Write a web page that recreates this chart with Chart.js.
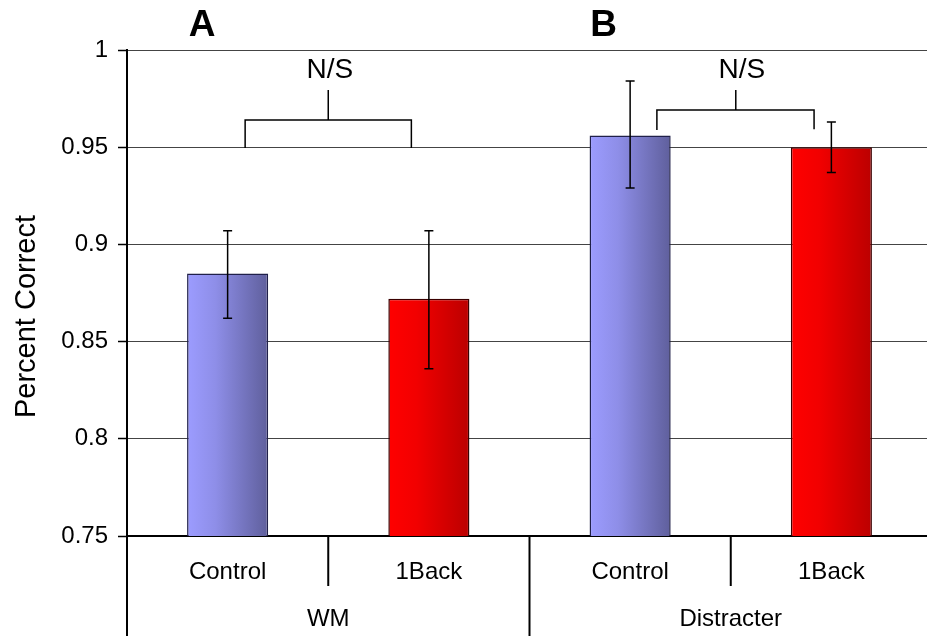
<!DOCTYPE html>
<html>
<head>
<meta charset="utf-8">
<script src="https://cdn.jsdelivr.net/npm/chart.js@4.4.1/dist/chart.umd.min.js"></script>
<style>
  html, body { margin: 0; padding: 0; background: #fff; overflow: hidden; }
  canvas { display: block; }
</style>
</head>
<body>
<canvas id="c" width="933" height="636"></canvas>
<script>
// ---- data ----
const conditions = ['Control', '1Back', 'Control', '1Back'];
const groups = ['WM', 'Distracter'];
const groupSpan = [[0, 1], [2, 3]];
const meanCorrect = [0.885, 0.872, 0.956, 0.950];
const errLow = [0.862, 0.836, 0.929, 0.937];
const errHigh = [0.907, 0.907, 0.984, 0.963];
const yMin = 0.75, yMax = 1, yStep = 0.05;
const yTickLabels = ['0.75', '0.8', '0.85', '0.9', '0.95', '1'];
const panelLetters = ['A', 'B'];
const sigLabel = 'N/S';
const yTitle = 'Percent Correct';

// annotation geometry (category index units / value units)
const brackets = [
  { left: 0.087, right: 0.913, stem: 0.5, bar: 0.964, legL: 0.9496, legR: 0.9496, stemTop: 0.9794, textX: 0.508, textY: 0.9856 },
  { left: 2.133, right: 2.914, stem: 2.525, bar: 0.9691, legL: 0.9588, legR: 0.9592, stemTop: 0.9794, textX: 2.555, textY: 0.9856 }
];
const letterX = [-0.127, 1.868];

const FONT = '"Liberation Sans", Arial, sans-serif';
const BAR_PCT = 0.403;

function barFill(ctx) {
  const chart = ctx.chart;
  const i = ctx.dataIndex;
  const isCtrl = conditions[i] === 'Control';
  const xs = chart.scales.x;
  if (!xs || !chart.chartArea) return isCtrl ? '#8080cc' : '#e00000';
  const c = xs.getPixelForValue(i);
  const hw = (xs.width / conditions.length) * BAR_PCT / 2;
  const g = chart.ctx.createLinearGradient(c - hw, 0, c + hw, 0);
  if (isCtrl) {
    g.addColorStop(0, '#9c9cff');
    g.addColorStop(0.35, '#8e8ee8');
    g.addColorStop(1, '#5f5f9c');
  } else {
    g.addColorStop(0, '#ff0000');
    g.addColorStop(0.35, '#f20000');
    g.addColorStop(1, '#bb0000');
  }
  return g;
}

const overlay = {
  id: 'overlay',
  afterDatasetsDraw(chart) {
    const ctx = chart.ctx;
    const xs = chart.scales.x, ys = chart.scales.y;
    const ca = chart.chartArea;
    ctx.save();
    ctx.strokeStyle = '#000';
    ctx.fillStyle = '#000';

    // error bars
    ctx.lineWidth = 1.5;
    for (let i = 0; i < meanCorrect.length; i++) {
      const x = xs.getPixelForValue(i);
      const yt = ys.getPixelForValue(errHigh[i]);
      const yb = ys.getPixelForValue(errLow[i]);
      ctx.beginPath();
      ctx.moveTo(x, yt); ctx.lineTo(x, yb);
      ctx.moveTo(x - 4.5, yt); ctx.lineTo(x + 4.5, yt);
      ctx.moveTo(x - 4.5, yb); ctx.lineTo(x + 4.5, yb);
      ctx.stroke();
    }

    // brackets
    ctx.lineWidth = 1.5;
    ctx.font = '28px ' + FONT;
    ctx.textAlign = 'center';
    ctx.textBaseline = 'alphabetic';
    brackets.forEach(b => {
      const xl = xs.getPixelForValue(b.left), xr = xs.getPixelForValue(b.right);
      const xm = xs.getPixelForValue(b.stem);
      const yb = ys.getPixelForValue(b.bar);
      ctx.beginPath();
      ctx.moveTo(xl, ys.getPixelForValue(b.legL));
      ctx.lineTo(xl, yb);
      ctx.lineTo(xr, yb);
      ctx.lineTo(xr, ys.getPixelForValue(b.legR));
      ctx.moveTo(xm, yb);
      ctx.lineTo(xm, ys.getPixelForValue(b.stemTop));
      ctx.stroke();
      ctx.fillText(sigLabel, xs.getPixelForValue(b.textX), ys.getPixelForValue(b.textY));
    });

    // panel letters
    ctx.font = 'bold 37px ' + FONT;
    panelLetters.forEach((L, k) => {
      ctx.fillText(L, xs.getPixelForValue(letterX[k]), 36);
    });

    // x axis separators
    ctx.lineWidth = 2;
    const n = conditions.length;
    for (let i = 0; i <= n; i++) {
      const xb = xs.getPixelForValue(i - 0.5);
      const isGroupEdge = (i === 0 || i === n || i === 2);
      ctx.beginPath();
      ctx.moveTo(xb, ca.bottom);
      ctx.lineTo(xb, isGroupEdge ? chart.height : ca.bottom + 50);
      ctx.stroke();
    }

    // group labels
    ctx.font = '24px ' + FONT;
    groups.forEach((g, k) => {
      const [a, b] = groupSpan[k];
      const x = (xs.getPixelForValue(a) + xs.getPixelForValue(b)) / 2;
      ctx.fillText(g, x, 626);
    });

    // y title
    ctx.save();
    ctx.translate(35, 316.5);
    ctx.rotate(-Math.PI / 2);
    ctx.font = '29px ' + FONT;
    ctx.fillText(yTitle, 0, 0);
    ctx.restore();

    ctx.restore();
  }
};

new Chart(document.getElementById('c'), {
  type: 'bar',
  data: {
    labels: conditions,
    datasets: [{
      data: meanCorrect,
      backgroundColor: barFill,
      borderColor: (ctx) => conditions[ctx.dataIndex] === 'Control' ? '#20204a' : '#3a0000',
      borderWidth: 1.5,
      borderSkipped: false,
      categoryPercentage: 1,
      barPercentage: BAR_PCT
    }]
  },
  options: {
    responsive: false,
    animation: false,
    events: [],
    layout: { padding: { top: 50, left: 0, right: 1, bottom: 0 } },
    plugins: { legend: { display: false }, tooltip: { enabled: false }, title: { display: false } },
    scales: {
      x: {
        type: 'category',
        grid: { display: false, drawTicks: false },
        border: { display: true, color: '#000', width: 2 },
        ticks: { color: '#000', font: { family: FONT, size: 24 }, padding: 22, maxRotation: 0, autoSkip: false },
        afterFit(scale) { scale.height = 100; }
      },
      y: {
        min: yMin,
        max: yMax,
        afterBuildTicks(scale) {
          scale.ticks = yTickLabels.map(s => ({ value: parseFloat(s) }));
        },
        ticks: {
          color: '#000', font: { family: FONT, size: 24 }, padding: 10,
          callback: (v, i) => yTickLabels[i]
        },
        grid: { color: '#444', lineWidth: 1, tickLength: 9, tickColor: '#000', tickWidth: 1.5 },
        border: { display: true, color: '#000', width: 2 },
        afterFit(scale) { scale.width = 127; }
      }
    }
  },
  plugins: [overlay]
});
</script>
</body>
</html>
